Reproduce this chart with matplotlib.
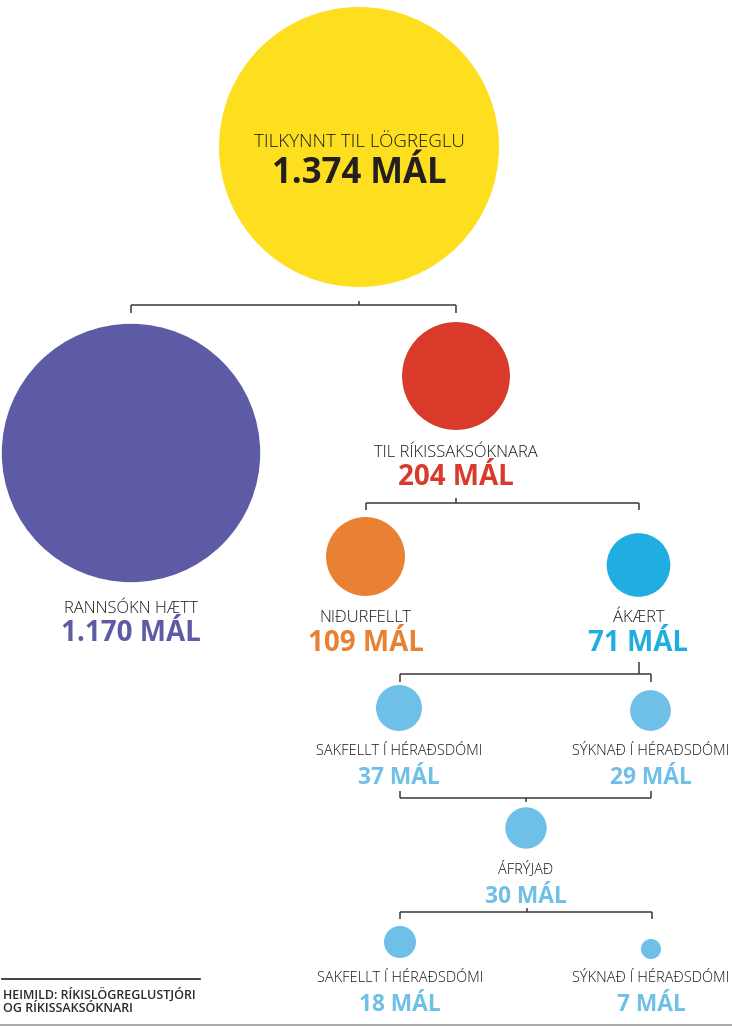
import matplotlib
matplotlib.use('Agg')
import matplotlib.pyplot as plt
from matplotlib.patches import Circle

# stages of the case flow and number of cases at each
labels = ['TILKYNNT TIL LÖGREGLU', 'RANNSÓKN HÆTT', 'TIL RÍKISSAKSÓKNARA',
          'NIÐURFELLT', 'ÁKÆRT', 'SAKFELLT Í HÉRAÐSDÓMI', 'SÝKNAÐ Í HÉRAÐSDÓMI',
          'ÁFRÝJAÐ', 'SAKFELLT Í HÉRAÐSDÓMI', 'SÝKNAÐ Í HÉRAÐSDÓMI']
cases = [1374, 1170, 204, 109, 71, 37, 29, 30, 18, 7]
colors = ['#FEDF1F', '#5D5AA6', '#D93A29', '#E98132', '#20AEE2',
          '#6EC0E8', '#6EC0E8', '#6EC0E8', '#6EC0E8', '#6EC0E8']
source = 'HEIMILD: RÍKISLÖGREGLUSTJÓRI\nOG RÍKISSAKSÓKNARI'

# layout (pixel coords, y down)
cx = [359, 131, 456, 365.5, 638.5, 399, 650.5, 526, 400, 651]
cy = [147, 453, 376, 556.5, 565, 708, 710.5, 828, 942, 949]
lab_y = [147, 613, 457, 622, 622, 755, 755, 873, 982, 982]
val_y = [183, 641, 485, 651, 651, 784, 784, 903, 1011, 1011]
max_r = 140

W, H = 732, 1026
fig = plt.figure(figsize=(W / 100, H / 100), dpi=100)
ax = fig.add_axes([0, 0, 1, 1])
ax.set_xlim(0, W)
ax.set_ylim(H, 0)
ax.axis('off')

font = ['Open Sans', 'DejaVu Sans']
line_col = '#3a3a3a'

for i in range(len(cases)):
    # circle area proportional to number of cases
    r = max_r * (cases[i] / cases[0]) ** 0.5
    ax.add_patch(Circle((cx[i], cy[i]), r, color=colors[i], lw=0))
    if i == 0:
        lfs, vfs, vc = 13.5, 25, '#231F20'
    elif i >= 5:
        lfs, vfs, vc = 10.5, 16.4, colors[i]
    else:
        lfs, vfs, vc = 12, 20, colors[i]
    ax.text(cx[i], lab_y[i], labels[i], ha='center', va='baseline',
            fontsize=lfs, fontweight='light', color='#1a1a1a', family=font)
    val = f'{cases[i]:,}'.replace(',', '.') + ' MÁL'
    ax.text(cx[i], val_y[i], val, ha='center', va='baseline', fontsize=vfs,
            fontweight='bold', color=vc, family=font)


def bracket(y, x0, x1, xs, stem, leg, up=False):
    kw = dict(color=line_col, lw=1.1, solid_capstyle='butt')
    ax.plot([x0, x1], [y, y], **kw)
    if up:
        ax.plot([x0, x0], [y, y - leg], **kw)
        ax.plot([x1, x1], [y, y - leg], **kw)
        ax.plot([xs, xs], [y, y + stem], **kw)
    else:
        ax.plot([x0, x0], [y, y + leg], **kw)
        ax.plot([x1, x1], [y, y + leg], **kw)
        ax.plot([xs, xs], [y, y - stem], **kw)


bracket(305, cx[1], cx[2], cx[0], 4, 8)
bracket(503, cx[3], cx[4], cx[2], 5, 7)
bracket(674, 400, 651, cx[4], 12, 8)
bracket(798, 400, 651, cx[7], 4, 7, up=True)
bracket(912, 400, 652, 527, 4, 7)

# source note
ax.plot([2, 200], [979, 979], color='#222', lw=1.2)
ax.text(3, 1001, source, ha='left', va='center', fontsize=9,
        fontweight='semibold', color='#2b2b2b', family=font, linespacing=1.05)
ax.plot([0, W], [1025, 1025], color='#999999', lw=1.2)

fig.savefig('out.png', dpi=100)
